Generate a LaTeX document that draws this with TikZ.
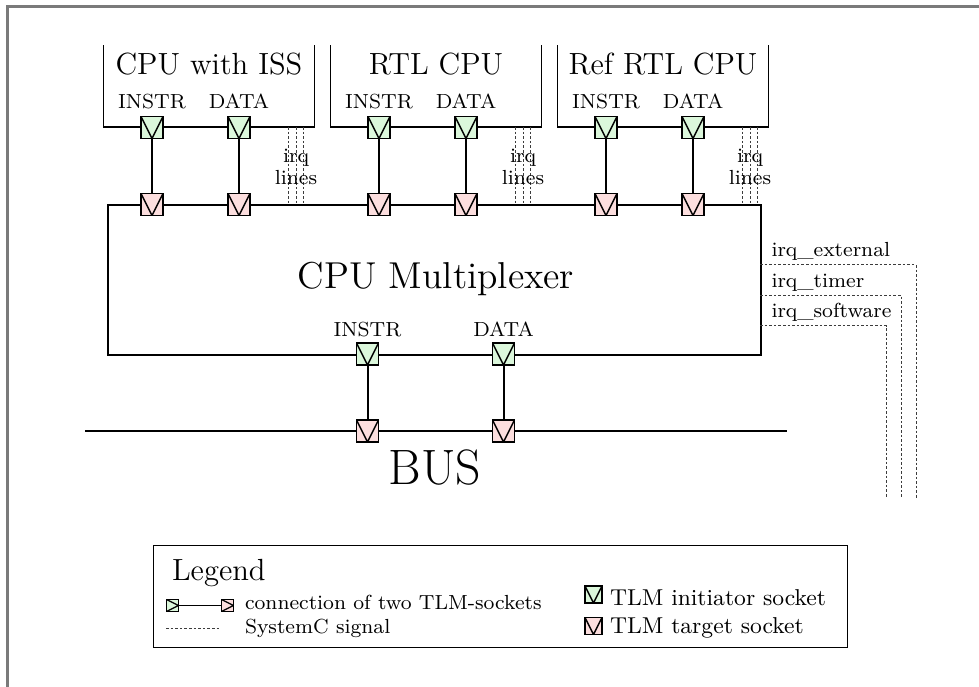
\documentclass[tikz,border=0pt]{standalone}
\usetikzlibrary{calc}
\definecolor{sockgreen}{RGB}{219,247,219}
\definecolor{sockpink}{RGB}{252,222,222}
\definecolor{framegray}{RGB}{122,122,122}
\definecolor{siggray}{RGB}{60,60,60}
\begin{document}
\begin{tikzpicture}[x=1pt,y=-1pt,
  txt/.style={scale=2.55, inner sep=0pt, outer sep=0pt, font=\footnotesize},
  unit/.style={line width=1.5pt},
  sockbase/.style={draw, line width=1.4pt, minimum size=22pt, inner sep=0pt, outer sep=0pt},
  vdown/.style={path picture={\draw[line width=1.4pt]
      (path picture bounding box.north west) -- (path picture bounding box.south)
      -- (path picture bounding box.north east);}},
  vright/.style={path picture={\draw[line width=1.2pt]
      (path picture bounding box.north west) -- (path picture bounding box.east)
      -- (path picture bounding box.south west);}},
  isock/.style={sockbase, vdown, fill=sockgreen},
  tsock/.style={sockbase, vdown, fill=sockpink},
  link/.style={line width=2pt},
  sig/.style={siggray, line width=0.8pt, dash pattern=on 2.6pt off 2pt},
]
\useasboundingbox (0,0) rectangle (979,686);
\clip (0,0) rectangle (979,686);

% outer frame
\draw[framegray, line width=2.5pt] (7.5,700) -- (7.5,6.5) -- (995,6.5);

% ---- the three CPU models (open at the top) ----
\foreach \L/\name/\t in {103.5/a/CPU with ISS, 330.5/b/RTL CPU, 557.5/c/Ref RTL CPU}{
  \draw[unit] (\L,45) |- (\L+211,127) -- (\L+211,45);
  \node[txt, font=\large, anchor=base] (title\name) at (\L+105.5,74) {\t};
  \node[txt, anchor=base] (li\name) at (\L+48.5,108.5) {INSTR};
  \node[txt, anchor=base] (ld\name) at (\L+135.5,108.5) {DATA};
  % irq lines down to the multiplexer
  \foreach \o/\k in {26/1, 18.5/2, 11/3}{
    \coordinate (irqtop\name\k) at (\L+211-\o,127);
    \coordinate (irqbot\name\k) at (\L+211-\o,204);
    \draw[sig] (irqtop\name\k) -- (irqbot\name\k);
  }
  \node[txt, align=center, font=\footnotesize\linespread{0.9}\selectfont] (irqlbl\name)
    at (\L+211-18.5,167) {irq\\lines};
}

% ---- CPU multiplexer ----
\node[draw, unit, minimum width=653pt, minimum height=150pt, anchor=north west,
      inner sep=0pt] (mux) at (107,204) {};
\node[txt, scale=1.02, font=\Large, anchor=base] (muxtitle) at (436,288) {CPU Multiplexer};
\node[txt, anchor=base] (lmi) at (367.5,336) {INSTR};
\node[txt, anchor=base] (lmd) at (503.5,336) {DATA};

% sockets between the CPUs and the multiplexer
\foreach \L/\name in {103.5/a, 330.5/b, 557.5/c}{
  \node[isock] (ci\name) at (\L+48.5,127.5) {};
  \node[isock] (cd\name) at (\L+135.5,127.5) {};
  \node[tsock] (mi\name) at (\L+48.5,204.5) {};
  \node[tsock] (md\name) at (\L+135.5,204.5) {};
  \draw[link] (ci\name.south) -- (mi\name.north);
  \draw[link] (cd\name.south) -- (md\name.north);
}

% ---- bus ----
\coordinate (busl) at (85,431);
\coordinate (busr) at (787,431);
\draw[line width=2.3pt] (busl) -- (busr);
\node[isock] (oi) at (367.5,354) {};
\node[isock] (od) at (503.5,354) {};
\node[tsock] (bi) at (367.5,431) {};
\node[tsock] (bd) at (503.5,431) {};
\draw[link] (oi.south) -- (bi.north);
\draw[link] (od.south) -- (bd.north);
\node[txt, font=\fontsize{19.5}{22}\selectfont, anchor=base] (bus) at (435,484) {BUS};

% ---- external interrupt lines ----
\foreach \y/\x/\n/\t in {264.5/916/e/irq\_external, 295/901/t/irq\_timer, 325.5/886/s/irq\_software}{
  \coordinate (irqs\n) at (760,\y);
  \coordinate (irqc\n) at (\x,\y);
  \coordinate (irqe\n) at (\x,498);
  \draw[sig] (irqs\n) -- (irqc\n) -- (irqe\n);
  \node[txt, anchor=base west] (irql\n) at (771.5,\y-8) {\t};
}

% ---- legend ----
\node[draw, line width=1.4pt, minimum width=694pt, minimum height=102pt,
      anchor=north west, inner sep=0pt] (legend) at (153,545) {};
\node[txt, font=\large, anchor=base west] (legtitle) at (172,580) {Legend};
\node[sockbase, vright, fill=sockgreen, minimum size=12pt, line width=1.2pt] (lg1) at (172.5,605.5) {};
\node[sockbase, vright, fill=sockpink, minimum size=12pt, line width=1.2pt] (lg2) at (227.5,605.5) {};
\draw[line width=1.3pt] (lg1.east) -- (lg2.west);
\node[txt, anchor=base west] (legconn) at (245,609) {connection of two TLM-sockets};
\coordinate (lgs1) at (166,628);
\coordinate (lgs2) at (219,628);
\draw[sig] (lgs1) -- (lgs2);
\node[txt, anchor=base west] (legsig) at (245,633) {SystemC signal};
\node[isock, minimum size=17pt, line width=1.2pt] (lgi) at (593.5,594.5) {};
\node[tsock, minimum size=17pt, line width=1.2pt] (lgt) at (593.5,626) {};
\node[txt, font=\small, anchor=base west] (legini) at (610,605) {TLM initiator socket};
\node[txt, font=\small, anchor=base west] (legtar) at (610,633) {TLM target socket};
\end{tikzpicture}
\end{document}
